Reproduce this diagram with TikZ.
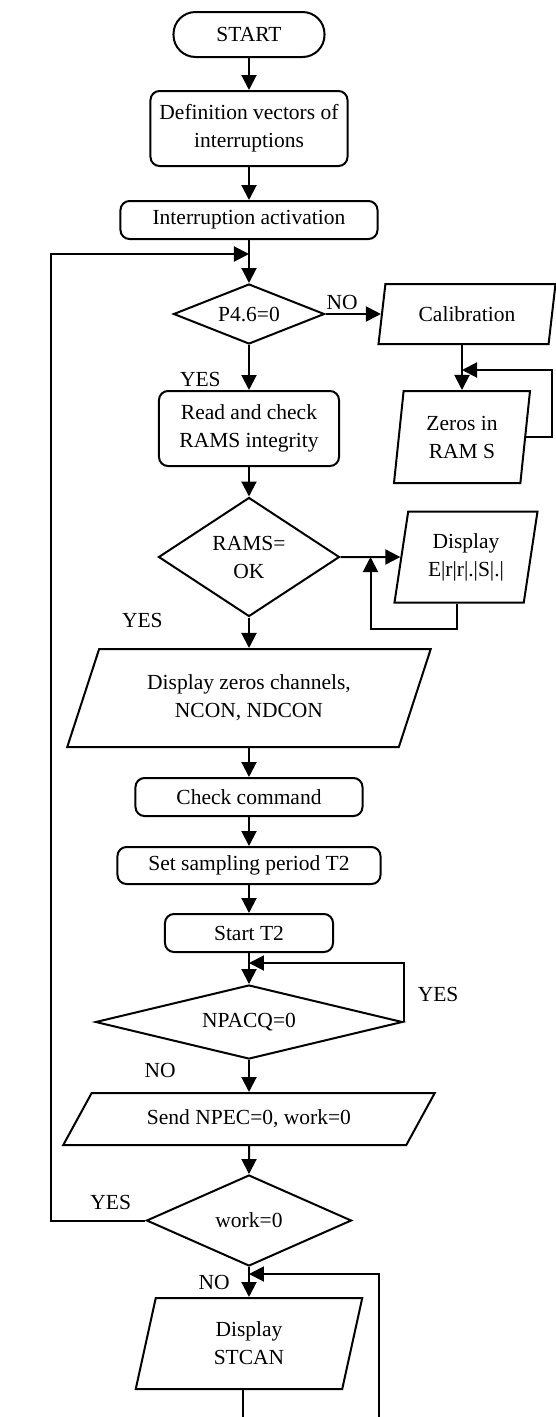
\documentclass[tikz,border=0pt]{standalone}
\usepackage{fontspec}
\setmainfont{Liberation Serif}
\usetikzlibrary{arrows.meta,shapes.geometric}
\tikzset{%
  >={Triangle[width=15pt,length=15pt]},
  % Specifications for style of nodes:
          base/.style = {draw=black, text centered, align=center,
                         font=\fontsize{21.5}{28}\selectfont},
      terminal/.style = {base, rectangle, rounded corners=22pt,
                         minimum width=151pt, minimum height=45pt},
       process/.style = {base, rectangle, rounded corners=9pt,
                         minimum height=38pt},
      decision/.style = {base, diamond, inner sep=1pt},
    io/.style 2 args = {base, trapezium, trapezium stretches body,
                         trapezium left angle=#1, trapezium right angle=#2},
}
\begin{document}
\begin{tikzpicture}[x=1pt, y=1pt, node distance=94pt, line width=2pt,
    every node/.style={font=\fontsize{21.5}{28}\selectfont}]
  \useasboundingbox (-249,34.5) rectangle (307,-1382.5);
  % Specification of nodes (position, etc.)
  \node (startNode)     [terminal]                                   {START};
  \node (defVectors)    [process, below of=startNode,
                         minimum width=197pt, minimum height=75pt]   {Definition vectors of\\interruptions};
  \node (intActivation) [process, below of=defVectors, yshift=2.5pt,
                         minimum width=257pt]                        {Interruption activation};
  \node (p46_check)     [decision, below of=intActivation, aspect=2.5,
                         minimum width=151pt, minimum height=60pt]   {P4.6=0};
  \node (readRams)      [process, below of=p46_check, yshift=-20.5pt,
                         minimum width=180pt, minimum height=75pt]   {Read and check\\RAMS integrity};
  \node (rams_check)    [decision, below of=readRams, yshift=-34.5pt, aspect=1.5,
                         minimum width=181pt, minimum height=119pt]  {RAMS=\\OK};
  \node (displayZeros)  [io={58.9}{121.1}, below of=rams_check, yshift=-47pt,
                         minimum width=363.5pt, minimum height=98pt] {Display zeros channels,\\NCON, NDCON};
  \node (checkCmd)      [process, below of=displayZeros, yshift=-5pt,
                         minimum width=227pt]                        {Check command};
  \node (setPeriod)     [process, below of=checkCmd, yshift=25.5pt,
                         minimum width=263pt, minimum height=37pt]   {Set sampling period T2};
  \node (startT2)       [process, below of=setPeriod, yshift=26.5pt,
                         minimum width=168pt]                        {Start T2};
  \node (npacq_check)   [decision, below of=startT2, yshift=5pt, aspect=4,
                         minimum width=307pt, minimum height=74pt]   {NPACQ=0};
  \node (sendNpec)      [io={41.2}{138.8}, below of=npacq_check, yshift=-3pt,
                         minimum width=371.5pt, minimum height=52pt] {Send NPEC=0, work=0};
  \node (work_check)    [decision, below of=sendNpec, yshift=-7.5pt, aspect=2.25,
                         minimum width=205pt, minimum height=91pt]   {work=0};
  \node (displayStcan)  [io={68.1}{111.9}, below of=work_check, yshift=-29pt,
                         minimum width=226.5pt, minimum height=91pt] {Display\\STCAN};

  \node (calibration)   [io={72.4}{107.6}, right of=p46_check, xshift=124pt,
                         minimum width=177pt, minimum height=60pt]   {Calibration};
  \node (zerosRam)      [io={78.9}{101.1}, below of=calibration, yshift=-29pt, xshift=-5pt,
                         minimum width=136pt, minimum height=92pt]   {Zeros in\\RAM S};
  \node (displayErr)    [io={75.8}{104.2}, right of=rams_check, xshift=123pt,
                         minimum width=143pt, minimum height=91pt]   {Display\\E|r|r|.|S|.|};

  % Points where the loops join the flow
  \coordinate (joinTop)   at ([yshift=-14pt]intActivation.south);
  \coordinate (joinCal)   at ([yshift=20pt]zerosRam.north);
  \coordinate (joinErr)   at ([xshift=30pt]rams_check.east);
  \coordinate (joinNpacq) at ([yshift=-10pt]startT2.south);
  \coordinate (joinWork)  at ([yshift=-7pt]work_check.south);
  \coordinate (exitStcan) at ([xshift=-6pt,yshift=-28pt]displayStcan.south);
  \coordinate (backStcan) at ([xshift=136pt]exitStcan);

  % Specification of lines between nodes specified above
  \draw[->]        (startNode) -- (defVectors);
  \draw[->]       (defVectors) -- (intActivation);
  \draw[->]    (intActivation) -- (p46_check);
  \draw[->]        (p46_check) -- node[pos=0.3, above] {NO} (calibration);
  \draw[->]        (p46_check) -- node[pos=0.77, left=24pt] {YES} (readRams);
  \draw[->] (calibration.south -| zerosRam.north) -- (zerosRam.north);
  \draw[->]    (zerosRam.east) -- ++(26,0) |- (joinCal);
  \draw[->]         (readRams) -- (rams_check);
  \draw[->]       (rams_check) -- (displayErr);
  \draw[->] ([xshift=-9pt]displayErr.south) -- ++(0,-25) -| (joinErr);
  \draw[->]       (rams_check) -- node[pos=0.09, left=82pt] {YES} (displayZeros);
  \draw[->]     (displayZeros) -- (checkCmd);
  \draw[->]         (checkCmd) -- (setPeriod);
  \draw[->]        (setPeriod) -- (startT2);
  \draw[->]          (startT2) -- (npacq_check);
  \draw[->] (npacq_check.east) |- node[pos=0.23, right=10pt] {YES} (joinNpacq);
  \draw[->]      (npacq_check) -- node[pos=0.32, left=69pt] {NO} (sendNpec);
  \draw[->]         (sendNpec) -- (work_check);
  \draw[->]  (work_check.west) -- node[pos=0.37, above=6pt] {YES} ++(-94,0) |- (joinTop);
  \draw[->]       (work_check) -- node[pos=0.53, left=15pt] {NO} (displayStcan);
  \draw (displayStcan.south -| exitStcan) -- (exitStcan);
  \draw[->]        (backStcan) |- (joinWork);

\end{tikzpicture}
\end{document}
